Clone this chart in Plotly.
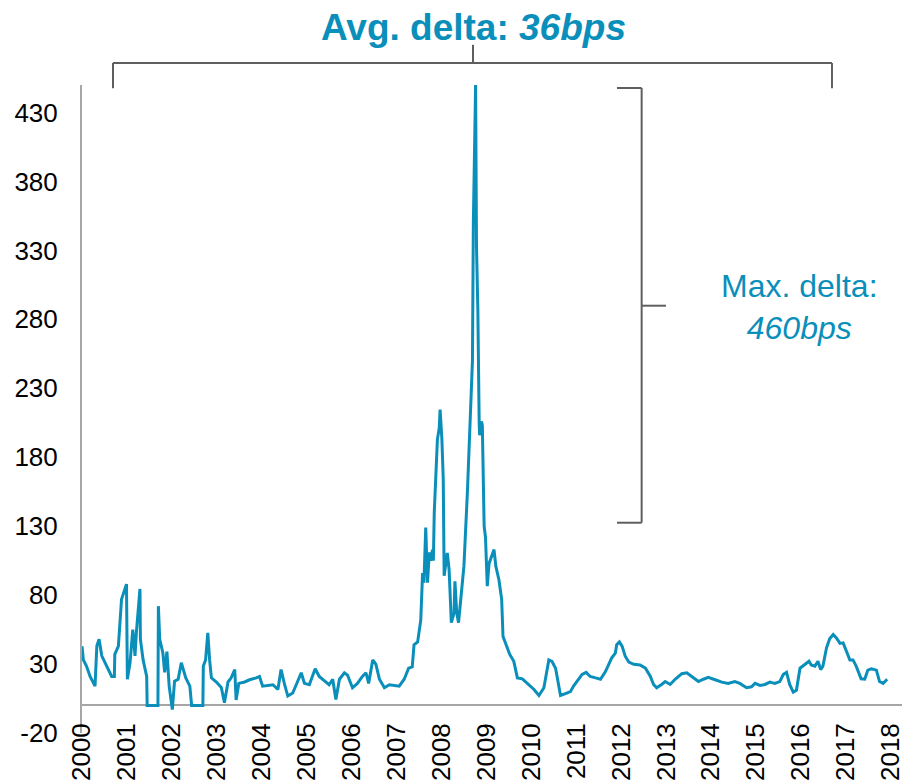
import plotly.graph_objects as go

# Decimal-year dates and spread values (bps)
years = [
    2000.00, 2000.03, 2000.10, 2000.18, 2000.29, 2000.33, 2000.38, 2000.44, 2000.66, 2000.72,
    2000.73, 2000.81, 2000.88, 2000.93, 2000.99, 2001.01, 2001.07, 2001.13, 2001.18, 2001.21,
    2001.29, 2001.30, 2001.36, 2001.44, 2001.45, 2001.69, 2001.70, 2001.73, 2001.80, 2001.84,
    2001.89, 2001.94, 2002.01, 2002.06, 2002.14, 2002.21, 2002.31, 2002.40, 2002.44, 2002.69,
    2002.70, 2002.75, 2002.80, 2002.84, 2002.88, 2002.99, 2003.10, 2003.17, 2003.25, 2003.32,
    2003.40, 2003.43, 2003.49, 2003.62, 2003.73, 2003.88, 2003.95, 2004.02, 2004.25, 2004.36,
    2004.43, 2004.51, 2004.58, 2004.69, 2004.88, 2004.95, 2005.06, 2005.19, 2005.28, 2005.39,
    2005.50, 2005.58, 2005.65, 2005.73, 2005.84, 2005.91, 2006.02, 2006.13, 2006.24, 2006.32,
    2006.38, 2006.47, 2006.54, 2006.62, 2006.73, 2006.84, 2006.95, 2007.06, 2007.17, 2007.27,
    2007.35, 2007.39, 2007.47, 2007.54, 2007.58, 2007.61, 2007.65, 2007.69, 2007.73, 2007.76,
    2007.80, 2007.82, 2007.84, 2007.91, 2007.95, 2007.97, 2008.01, 2008.04, 2008.06, 2008.10,
    2008.13, 2008.17, 2008.19, 2008.22, 2008.28, 2008.30, 2008.34, 2008.38, 2008.43, 2008.50,
    2008.58, 2008.65, 2008.69, 2008.71, 2008.74, 2008.76, 2008.78, 2008.81, 2008.84, 2008.85,
    2008.89, 2008.91, 2008.95, 2008.98, 2009.02, 2009.06, 2009.17, 2009.21, 2009.28, 2009.34,
    2009.37, 2009.43, 2009.52, 2009.61, 2009.69, 2009.80, 2009.95, 2010.06, 2010.17, 2010.28,
    2010.39, 2010.46, 2010.54, 2010.65, 2010.76, 2010.87, 2010.94, 2011.05, 2011.13, 2011.22,
    2011.31, 2011.43, 2011.54, 2011.65, 2011.79, 2011.87, 2011.90, 2011.96, 2012.02, 2012.09,
    2012.17, 2012.28, 2012.42, 2012.54, 2012.65, 2012.72, 2012.79, 2012.90, 2012.98, 2013.09,
    2013.20, 2013.35, 2013.46, 2013.57, 2013.72, 2013.83, 2013.94, 2014.09, 2014.24, 2014.38,
    2014.53, 2014.64, 2014.79, 2014.90, 2014.98, 2015.09, 2015.20, 2015.31, 2015.42, 2015.53,
    2015.61, 2015.68, 2015.75, 2015.83, 2015.90, 2015.98, 2016.09, 2016.18, 2016.23, 2016.31,
    2016.38, 2016.44, 2016.49, 2016.57, 2016.64, 2016.72, 2016.79, 2016.87, 2016.94, 2017.01,
    2017.09, 2017.16, 2017.23, 2017.34, 2017.42, 2017.49, 2017.57, 2017.68, 2017.75, 2017.83,
    2017.92,
]
delta_bps = [
    43, 33, 28.5, 21, 14, 43, 48, 36, 21, 21,
    37, 43, 77, 82, 88, 19, 31, 55, 36, 53,
    84.5, 48, 33, 21, 0, 0, 72, 48, 38, 24,
    39, 14, -3, 17.6, 19, 31, 20, 14, 0, 0,
    28.5, 33, 52.7, 33, 20, 17, 13, 2, 17, 20,
    26, 4, 16, 17, 18.6, 20, 21, 14, 15, 11.6,
    26, 15, 6.8, 9, 23.7, 16, 15, 26.6, 21, 18,
    15, 19, 4.3, 19, 23.7, 22, 12.8, 16, 21, 23.7,
    16, 33, 30, 19, 12.8, 15, 14.5, 14, 19, 27,
    28, 44, 46, 62, 96, 89, 129, 89, 111, 105,
    113, 105, 140, 193, 201, 214.5, 193, 164, 94, 106,
    110.6, 98.6, 81.7, 60, 67, 90, 67, 60, 77, 101,
    156.5, 221.7, 250, 350, 411, 450, 333, 287, 205, 196,
    206, 203, 130, 122, 86.5, 103, 113, 101, 91, 77,
    50, 45, 37, 32, 20, 19.3, 15.2, 11.6, 7.2, 12.8,
    33, 32, 27, 7.2, 8.6, 10, 14, 19, 22.5, 24,
    21, 20, 19, 24.6, 34.5, 38, 44, 46, 43, 35.7,
    31.4, 29.8, 29.3, 27, 21, 15.2, 12.8, 15.2, 17.3, 15.2,
    19, 23, 23.7, 21, 17.3, 19, 20.3, 18.6, 16.9, 16,
    17.3, 16, 12.8, 13.5, 16, 14.5, 15.2, 16.9, 16, 17.3,
    22.5, 24, 15.2, 9.7, 11, 27, 29.8, 32, 29.3, 28.5,
    32, 26, 28.5, 41.8, 48.3, 51.4, 49, 45, 45.4, 40,
    33, 33, 28.5, 19.3, 19, 25.6, 26.6, 25.6, 17.3, 16,
    19,
]

x_tick_vals = list(range(2000, 2019))
x_tick_text = [str(v) for v in x_tick_vals]
y_tick_vals = [-20, 30, 80, 130, 180, 230, 280, 330, 380, 430]
y_tick_text = [str(v) for v in y_tick_vals]

avg_label = "<b>Avg. delta: <i>36bps</i></b>"
max_label = "Max. delta:<br><i>460bps</i>"

TEAL = "#0A8FBB"
GREY = "#A6A6A6"
BRACKET = "#5F5F5F"
FONT = "Arial, Liberation Sans, sans-serif"

fig = go.Figure()
fig.add_trace(go.Scatter(
    x=years, y=delta_bps, mode="lines",
    line=dict(color=TEAL, width=3),
    showlegend=False, hoverinfo="skip",
))

shape_line = dict(color=BRACKET, width=2)
shapes = [
    # top (average) bracket
    dict(type="line", xref="paper", yref="paper", x0=0.0378, x1=0.9146, y0=1.034, y1=1.034, line=shape_line),
    dict(type="line", xref="paper", yref="paper", x0=0.0378, x1=0.0378, y0=1.034, y1=0.995, line=shape_line),
    dict(type="line", xref="paper", yref="paper", x0=0.9146, x1=0.9146, y0=1.034, y1=0.995, line=shape_line),
    dict(type="line", xref="paper", yref="paper", x0=0.4768, x1=0.4768, y0=1.034, y1=1.062, line=shape_line),
    # right (max) bracket
    dict(type="line", xref="paper", yref="paper", x0=0.6825, x1=0.6825, y0=0.9954, y1=0.3245, line=shape_line),
    dict(type="line", xref="paper", yref="paper", x0=0.6524, x1=0.6825, y0=0.9954, y1=0.9954, line=shape_line),
    dict(type="line", xref="paper", yref="paper", x0=0.6524, x1=0.6825, y0=0.3245, y1=0.3245, line=shape_line),
    dict(type="line", xref="paper", yref="paper", x0=0.6825, x1=0.7122, y0=0.6594, y1=0.6594, line=shape_line),
]

annotations = [
    dict(text=avg_label, xref="paper", yref="paper", x=0.478, y=1.0895,
         xanchor="center", yanchor="middle", showarrow=False,
         font=dict(family=FONT, size=37, color=TEAL)),
    dict(text=max_label, xref="paper", yref="paper", x=0.8756, y=0.657,
         xanchor="center", yanchor="middle", showarrow=False,
         font=dict(family=FONT, size=32, color=TEAL)),
]

fig.update_layout(
    width=902, height=781,
    margin=dict(l=82, r=0, t=85, b=48, autoexpand=False),
    paper_bgcolor="white", plot_bgcolor="white",
    font=dict(family=FONT, size=26, color="black"),
    shapes=shapes, annotations=annotations,
    xaxis=dict(
        range=[2000, 2018.25], tickmode="array", tickvals=x_tick_vals, ticktext=x_tick_text,
        tickangle=-90, showgrid=False, zeroline=False, showline=False, ticks="",
        automargin=False, ticklabelstandoff=-16, ticklabeloverflow="allow",
        tickfont=dict(size=26, color="black"),
    ),
    yaxis=dict(
        range=[-20, 450], tickmode="array", tickvals=y_tick_vals, ticktext=y_tick_text,
        showgrid=False, zeroline=True, zerolinecolor=GREY, zerolinewidth=2,
        showline=True, linecolor=GREY, linewidth=2, ticks="", automargin=False,
        ticklabelstandoff=17, tickfont=dict(size=26, color="black"),
    ),
)

fig.write_html(
    "out.html",
    config={"displayModeBar": False},
    post_script="document.body.style.margin='0';document.body.style.overflow='hidden';",
)
